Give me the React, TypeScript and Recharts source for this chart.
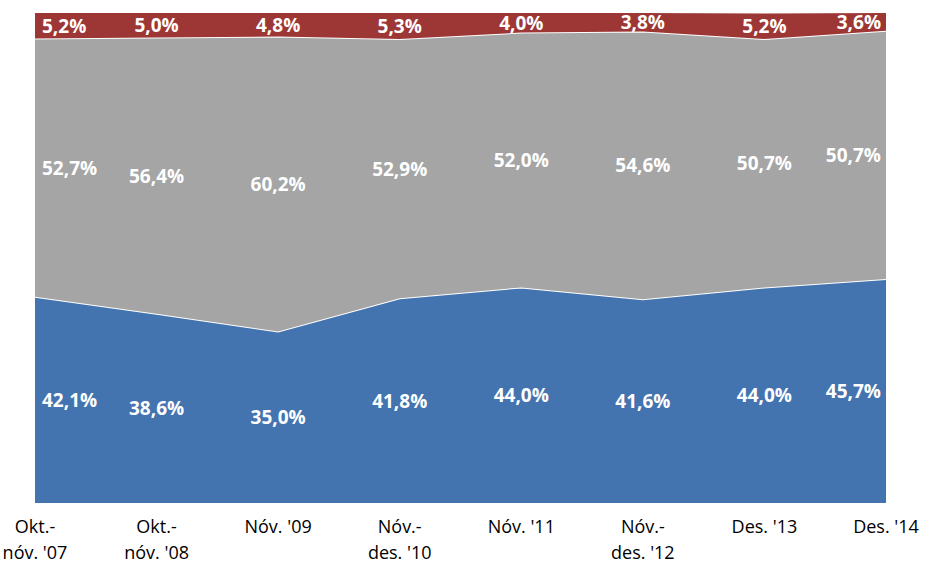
import React from "react";
import { ComposedChart, Area, Line, XAxis, YAxis, LabelList } from "recharts";

// Survey periods (two-line labels split on "\n")
const periods = [
  "Okt.-\nnóv. '07",
  "Okt.-\nnóv. '08",
  "Nóv. '09",
  "Nóv.-\ndes. '10",
  "Nóv. '11",
  "Nóv.-\ndes. '12",
  "Des. '13",
  "Des. '14",
];

// Shares in percent, bottom to top of the stack
const blueShare = [42.1, 38.6, 35.0, 41.8, 44.0, 41.6, 44.0, 45.7];
const grayShare = [52.7, 56.4, 60.2, 52.9, 52.0, 54.6, 50.7, 50.7];
const redShare = [5.2, 5.0, 4.8, 5.3, 4.0, 3.8, 5.2, 3.6];

const BLUE = "#4474AF";
const GRAY = "#A5A5A5";
const RED = "#9D3735";

const data = periods.map((p, i) => ({
  period: p,
  blue: blueShare[i],
  gray: grayShare[i],
  red: redShare[i],
  // band centres, used only to place the value labels
  blueMid: blueShare[i] / 2,
  grayMid: blueShare[i] + grayShare[i] / 2,
  redMid: blueShare[i] + grayShare[i] + redShare[i] / 2,
}));

const fmt = (v: number) => v.toFixed(1).replace(".", ",") + "%";

const makeLabel = (values: number[]) => (props: any) => {
  const { x, y, index } = props;
  const last = values.length - 1;
  let anchor: "start" | "middle" | "end" = "middle";
  let dx = 0;
  if (index === 0) {
    anchor = "start";
    dx = 7;
  } else if (index === last) {
    anchor = "end";
    dx = -5;
  }
  return (
    <text
      x={x + dx}
      y={y}
      textAnchor={anchor}
      dominantBaseline="central"
      fill="#fff"
      fontFamily="'Open Sans', sans-serif"
      fontWeight={700}
      fontSize={19}
    >
      {fmt(values[index])}
    </text>
  );
};

const PeriodTick = (props: any) => {
  const { x, y, payload } = props;
  const lines = String(payload.value).split("\n");
  return (
    <text
      x={x}
      y={y}
      textAnchor="middle"
      fill="#000"
      fontFamily="'Open Sans', sans-serif"
      fontSize={18}
    >
      {lines.map((l, i) => (
        <tspan key={i} x={x} dy={i === 0 ? 22 : 26}>
          {l}
        </tspan>
      ))}
    </text>
  );
};

export default function App() {
  return (
    <div style={{ position: "absolute", left: 0, top: 0, background: "#fff" }}>
      <ComposedChart
        width={943}
        height={568}
        data={data}
        margin={{ top: 13, right: 57, left: 35, bottom: 0 }}
      >
        <XAxis
          dataKey="period"
          axisLine={false}
          tickLine={false}
          height={65}
          interval={0}
          tick={<PeriodTick />}
        />
        <YAxis hide domain={[0, 100]} allowDataOverflow />
        <Area
          type="linear"
          dataKey="blue"
          stackId="s"
          fill={BLUE}
          fillOpacity={1}
          stroke="#fff"
          strokeWidth={2}
          isAnimationActive={false}
        />
        <Area
          type="linear"
          dataKey="gray"
          stackId="s"
          fill={GRAY}
          fillOpacity={1}
          stroke="#fff"
          strokeWidth={2}
          isAnimationActive={false}
        />
        <Area
          type="linear"
          dataKey="red"
          stackId="s"
          fill={RED}
          fillOpacity={1}
          stroke="none"
          isAnimationActive={false}
        />
        <Line dataKey="blueMid" stroke="none" dot={false} isAnimationActive={false}>
          <LabelList content={makeLabel(blueShare)} />
        </Line>
        <Line dataKey="grayMid" stroke="none" dot={false} isAnimationActive={false}>
          <LabelList content={makeLabel(grayShare)} />
        </Line>
        <Line dataKey="redMid" stroke="none" dot={false} isAnimationActive={false}>
          <LabelList content={makeLabel(redShare)} />
        </Line>
      </ComposedChart>
    </div>
  );
}
